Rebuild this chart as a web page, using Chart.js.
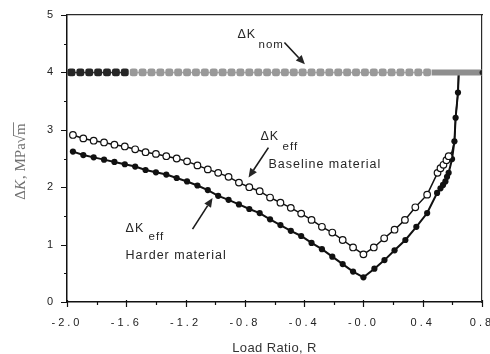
<!DOCTYPE html>
<html>
<head>
<meta charset="utf-8">
<script src="https://cdn.jsdelivr.net/npm/chart.js@4/dist/chart.umd.min.js"></script>
<style>
  html, body { margin: 0; padding: 0; background: #fff; }
  #chart { display: block; }
</style>
</head>
<body>
<canvas id="chart" width="490" height="354"></canvas>
<script>
// tick labels as printed on the figure
const xTickLabels = ["-2.0", "-1.6", "-1.2", "-0.8", "-0.4", "-0.0", "0.4", "0.8"];
const yTickLabels = ["0", "1", "2", "3", "4", "5"];

// baseline material, open circles
const rBaseline = [-1.96, -1.89, -1.82, -1.75, -1.68, -1.61, -1.54, -1.47, -1.40, -1.33,
  -1.26, -1.19, -1.12, -1.05, -0.98, -0.91, -0.84, -0.77, -0.70, -0.63,
  -0.56, -0.49, -0.42, -0.35, -0.28, -0.21, -0.14, -0.07, 0.0,
  0.07, 0.14, 0.21, 0.28, 0.35, 0.43, 0.50, 0.52, 0.54, 0.56, 0.575,
  0.598, 0.614, 0.622, 0.638, 0.643];
const kBaseline = [2.91, 2.85, 2.81, 2.78, 2.74, 2.71, 2.66, 2.61, 2.58, 2.54,
  2.50, 2.45, 2.38, 2.31, 2.25, 2.18, 2.08, 2.00, 1.93, 1.82,
  1.73, 1.64, 1.54, 1.43, 1.31, 1.21, 1.08, 0.95, 0.83,
  0.95, 1.11, 1.26, 1.43, 1.65, 1.87, 2.25, 2.33, 2.39, 2.47, 2.54,
  2.62, 2.80, 3.21, 3.65, 4.0];
// last few baseline points run along the harder curve without markers
const baselineMarked = 40;

// harder material, filled circles
const rHarder = [-1.96, -1.89, -1.82, -1.75, -1.68, -1.61, -1.54, -1.47, -1.40, -1.33,
  -1.26, -1.19, -1.12, -1.05, -0.98, -0.91, -0.84, -0.77, -0.70, -0.63,
  -0.56, -0.49, -0.42, -0.35, -0.28, -0.21, -0.14, -0.07, 0.0,
  0.074, 0.142, 0.21, 0.283, 0.357, 0.43, 0.497, 0.52, 0.537, 0.553, 0.564, 0.575,
  0.598, 0.614, 0.622, 0.638, 0.643];
const kHarder = [2.62, 2.56, 2.52, 2.48, 2.44, 2.40, 2.36, 2.30, 2.26, 2.22,
  2.16, 2.10, 2.03, 1.95, 1.85, 1.78, 1.70, 1.62, 1.55, 1.44,
  1.34, 1.24, 1.15, 1.03, 0.92, 0.79, 0.66, 0.53, 0.43,
  0.58, 0.73, 0.90, 1.08, 1.31, 1.55, 1.90, 1.98, 2.04, 2.10, 2.18, 2.25,
  2.49, 2.80, 3.21, 3.65, 4.0];

// nominal range, dark squares then grey squares then a solid grey band
const rNomDark = [-1.97, -1.91, -1.85, -1.79, -1.73, -1.67, -1.61];
const kNomDark = [4, 4, 4, 4, 4, 4, 4];
const rNomGrey = [-1.55, -1.49, -1.43, -1.37, -1.31, -1.25, -1.19, -1.13, -1.07, -1.01,
  -0.95, -0.89, -0.83, -0.77, -0.71, -0.65, -0.59, -0.53, -0.47, -0.41,
  -0.35, -0.29, -0.23, -0.17, -0.11, -0.05, 0.01, 0.07, 0.13, 0.19,
  0.25, 0.31, 0.37, 0.43];
const kNomGrey = [4, 4, 4, 4, 4, 4, 4, 4, 4, 4,
  4, 4, 4, 4, 4, 4, 4, 4, 4, 4,
  4, 4, 4, 4, 4, 4, 4, 4, 4, 4,
  4, 4, 4, 4];
const rNomBand = [0.46, 0.8];
const kNomBand = [4, 4];

function pts(xs, ys) {
  return xs.map((x, i) => ({ x: x, y: ys[i] }));
}

const SANS = "'Liberation Sans', Arial, sans-serif";
const SERIF = "'Liberation Serif', 'Times New Roman', serif";

function drawArrow(ctx, x1, y1, x2, y2) {
  const a = Math.atan2(y2 - y1, x2 - x1);
  const len = 9, half = 4;
  const bx = x2 - len * Math.cos(a), by = y2 - len * Math.sin(a);
  ctx.beginPath();
  ctx.moveTo(x1, y1);
  ctx.lineTo(bx, by);
  ctx.stroke();
  ctx.beginPath();
  ctx.moveTo(x2, y2);
  ctx.lineTo(bx + half * Math.sin(a), by - half * Math.cos(a));
  ctx.lineTo(bx - half * Math.sin(a), by + half * Math.cos(a));
  ctx.closePath();
  ctx.fill();
}

const figurePlugin = {
  id: "figure",
  beforeDraw(chart) {
    chart.ctx.letterSpacing = "3px";
  },
  afterDraw(chart) {
    const ctx = chart.ctx;
    const xs = chart.scales.x, ys = chart.scales.y;
    const area = chart.chartArea;
    const px = v => xs.getPixelForValue(v);
    const py = v => ys.getPixelForValue(v);

    ctx.save();
    ctx.letterSpacing = "0px";
    ctx.setLineDash([]);

    // outward tick marks, major and minor
    ctx.strokeStyle = "#111";
    ctx.lineWidth = 1.2;
    ctx.beginPath();
    const xt = xs.ticks.map(t => t.value);
    xt.forEach((v, i) => {
      const x = Math.round(px(v)) + 0.5;
      ctx.moveTo(x, area.bottom - 2);
      ctx.lineTo(x, area.bottom + 5);
      if (i < xt.length - 1) {
        const xm = Math.round(px((v + xt[i + 1]) / 2)) + 0.5;
        ctx.moveTo(xm, area.bottom);
        ctx.lineTo(xm, area.bottom + 3);
      }
    });
    const yt = ys.ticks.map(t => t.value);
    yt.forEach((v, i) => {
      const y = Math.round(py(v)) + 0.5;
      ctx.moveTo(area.left - 6, y);
      ctx.lineTo(area.left, y);
      if (i < yt.length - 1) {
        const ym = Math.round(py((v + yt[i + 1]) / 2)) + 0.5;
        ctx.moveTo(area.left - 3, ym);
        ctx.lineTo(area.left, ym);
      }
    });
    ctx.stroke();

    // x axis title
    ctx.fillStyle = "#333";
    ctx.font = "13px " + SANS;
    ctx.letterSpacing = "0.4px";
    ctx.textAlign = "center";
    ctx.textBaseline = "alphabetic";
    ctx.fillText("Load Ratio, R", (area.left + area.right) / 2, 352);

    // y axis title: ΔK, MPa√m
    ctx.save();
    ctx.translate(25, 162);
    ctx.rotate(-Math.PI / 2);
    ctx.letterSpacing = "0px";
    ctx.fillStyle = "#707070";
    ctx.strokeStyle = "#707070";
    ctx.textAlign = "left";
    const parts = [
      ["Δ", "15px " + SERIF],
      ["K", "italic 15px " + SERIF],
      [", MPa", "15px " + SERIF],
      ["√", "15px " + SERIF],
      ["m", "15px " + SERIF]
    ];
    let total = 0;
    parts.forEach(p => { ctx.font = p[1]; p.w = ctx.measureText(p[0]).width; total += p.w; });
    let cx = -total / 2;
    parts.forEach((p, i) => {
      ctx.font = p[1];
      ctx.fillText(p[0], cx, 0);
      if (i === 4) {
        ctx.lineWidth = 0.9;
        ctx.beginPath();
        ctx.moveTo(cx - 1, -11.5);
        ctx.lineTo(cx + p.w + 1, -11.5);
        ctx.stroke();
      }
      cx += p.w + (i === 1 ? 1 : 0);
    });
    ctx.restore();

    // annotations
    ctx.fillStyle = "#262626";
    ctx.strokeStyle = "#1a1a1a";
    ctx.textAlign = "left";
    ctx.letterSpacing = "1px";
    const big = "12.5px " + SANS, small = "11.5px " + SANS;

    ctx.font = big;
    ctx.fillText("ΔK", px(-0.85), py(4.60));
    ctx.font = small;
    ctx.fillText("nom", px(-0.708), py(4.43));

    ctx.font = big;
    ctx.fillText("ΔK", px(-0.695), py(2.83));
    ctx.font = small;
    ctx.fillText("eff", px(-0.546), py(2.65));
    ctx.font = big;
    ctx.fillText("Baseline material", px(-0.641), py(2.34));

    ctx.font = big;
    ctx.fillText("ΔK", px(-1.605), py(1.22));
    ctx.font = small;
    ctx.fillText("eff", px(-1.45), py(1.08));
    ctx.font = big;
    ctx.fillText("Harder material", px(-1.605), py(0.75));

    ctx.lineWidth = 1.6;
    drawArrow(ctx, px(-0.533), py(4.52), px(-0.395), py(4.14));
    drawArrow(ctx, px(-0.641), py(2.69), px(-0.775), py(2.17));
    drawArrow(ctx, px(-1.153), py(1.27), px(-1.018), py(1.81));

    ctx.restore();
  }
};

// the upper and right frame lines come from two bare mirror axes
const frameAxis = (position, fit) => ({
  type: "linear",
  position: position,
  min: position === "top" ? -2.0 : 0,
  max: position === "top" ? 0.8 : 5,
  afterFit: fit,
  grid: { display: true, drawOnChartArea: false, drawTicks: false },
  border: { display: true, color: "#2a2a2a", width: 1.2 },
  ticks: { display: false }
});

new Chart(document.getElementById("chart"), {
  type: "scatter",
  data: {
    datasets: [
      {
        label: "nominal band",
        data: pts(rNomBand, kNomBand),
        showLine: true,
        borderColor: "#8e8e8e",
        borderWidth: 6,
        pointRadius: [0, 2.5],
        pointBackgroundColor: "#222",
        pointBorderWidth: 0
      },
      {
        label: "nominal grey",
        data: pts(rNomGrey, kNomGrey),
        showLine: true,
        borderColor: "#a8a8a8",
        borderWidth: 1.5,
        pointStyle: "rectRounded",
        pointRadius: 4.6,
        pointBackgroundColor: "#999",
        pointBorderColor: "#999",
        pointBorderWidth: 0
      },
      {
        label: "nominal dark",
        data: pts(rNomDark, kNomDark),
        showLine: true,
        borderColor: "#333",
        borderWidth: 1.5,
        pointStyle: "rectRounded",
        pointRadius: 4.6,
        pointBackgroundColor: "#262626",
        pointBorderColor: "#262626",
        pointBorderWidth: 0
      },
      {
        label: "Baseline material",
        data: pts(rBaseline, kBaseline),
        showLine: true,
        borderColor: "#111",
        borderWidth: 1.5,
        pointRadius: rBaseline.map((_, i) => (i < baselineMarked ? 3.3 : 0)),
        pointBackgroundColor: "#fff",
        pointBorderColor: "#111",
        pointBorderWidth: 1.2
      },
      {
        label: "Harder material",
        data: pts(rHarder, kHarder),
        showLine: true,
        borderColor: "#111",
        borderWidth: 2,
        pointRadius: rHarder.map((_, i) => (i < rHarder.length - 1 ? 3.1 : 0)),
        pointBackgroundColor: "#111",
        pointBorderColor: "#111",
        pointBorderWidth: 0
      }
    ]
  },
  options: {
    responsive: false,
    animation: false,
    events: [],
    layout: { padding: { top: 15, right: 8, left: 0, bottom: 0 } },
    plugins: {
      legend: { display: false },
      tooltip: { enabled: false }
    },
    scales: {
      x: {
        type: "linear",
        min: -2.0,
        max: 0.8,
        afterFit(scale) {
          scale.height = 52;
          scale.paddingLeft = 0;
          scale.paddingRight = 0;
        },
        grid: { display: true, drawOnChartArea: false, drawTicks: false },
        border: { display: true, color: "#111", width: 1.5 },
        ticks: {
          stepSize: 0.4,
          padding: 14,
          maxRotation: 0,
          autoSkip: false,
          color: "#222",
          font: { family: SANS, size: 11 },
          callback: (v, i) => xTickLabels[i]
        }
      },
      y: {
        type: "linear",
        min: 0,
        max: 5,
        afterFit(scale) {
          scale.width = 67;
          scale.paddingTop = 0;
          scale.paddingBottom = 0;
        },
        grid: { display: true, drawOnChartArea: false, drawTicks: false },
        border: { display: true, color: "#111", width: 1.5 },
        ticks: {
          stepSize: 1,
          padding: 11,
          color: "#222",
          font: { family: SANS, size: 11 },
          callback: (v, i) => yTickLabels[i]
        }
      },
      xTop: frameAxis("top", s => { s.height = 0; s.paddingLeft = 0; s.paddingRight = 0; }),
      yRight: frameAxis("right", s => { s.width = 0; s.paddingTop = 0; s.paddingBottom = 0; })
    }
  },
  plugins: [figurePlugin]
});
</script>
</body>
</html>
